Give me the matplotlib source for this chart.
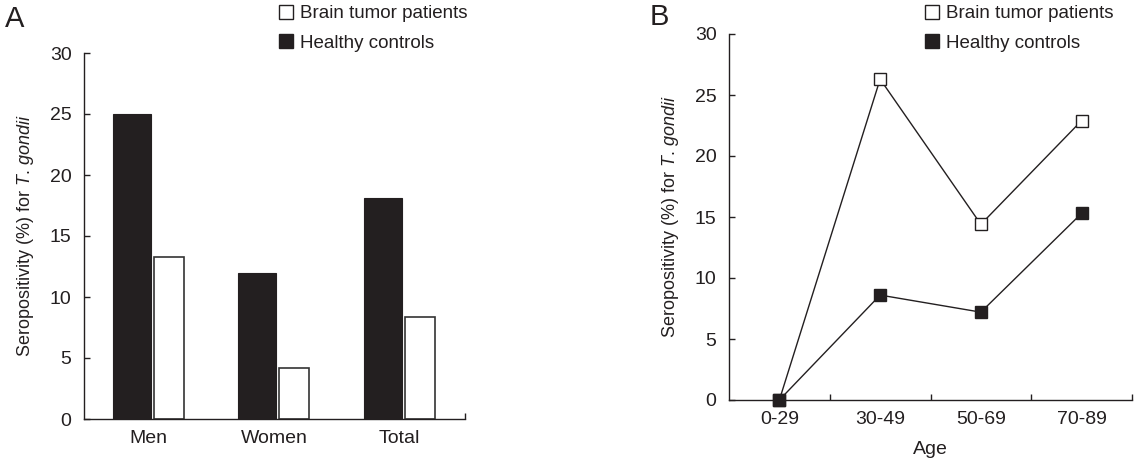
import matplotlib
matplotlib.use("Agg")
import matplotlib.pyplot as plt
from matplotlib.lines import Line2D
import numpy as np

plt.rcParams['font.family'] = ['Liberation Sans', 'DejaVu Sans']
plt.rcParams['mathtext.fontset'] = 'custom'
plt.rcParams['mathtext.rm'] = 'Liberation Sans'
plt.rcParams['mathtext.it'] = 'Liberation Sans:italic'

# Panel A data
sex_groups = ["Men", "Women", "Total"]
healthy_sex = [25.0, 12.0, 18.1]
tumor_sex = [13.3, 4.2, 8.4]

# Panel B data
age_groups = ["0-29", "30-49", "50-69", "70-89"]
tumor_age = [0.0, 26.3, 14.4, 22.9]
healthy_age = [0.0, 8.6, 7.2, 15.3]

yticks = [0, 5, 10, 15, 20, 25, 30]
ylabel = r'Seropositivity (%) for $\mathit{T.\,gondii}$'
legend_labels = ["Brain tumor patients", "Healthy controls"]
dark = '#231f20'
FS = 14

W, H = 1139, 466
fig = plt.figure(figsize=(W / 100, H / 100), dpi=100)

def px_axes(l, r, b, t):
    return fig.add_axes([l / W, 1 - b / H, (r - l) / W, (b - t) / H])

def style_axes(ax):
    ax.tick_params(axis='x', which='major', length=0, pad=8, labelsize=FS, colors=dark)
    ax.tick_params(axis='x', which='minor', direction='in', length=4, width=1, color=dark)
    ax.tick_params(axis='y', direction='in', length=4, width=1, pad=9, labelsize=FS, colors=dark)
    for s in ['top', 'right']:
        ax.spines[s].set_visible(False)
    for s in ['left', 'bottom']:
        ax.spines[s].set_color(dark)
        ax.spines[s].set_linewidth(1)
    ax.set_ylabel(ylabel, fontsize=13, color=dark, labelpad=10)

# ---------- Panel A ----------
axA = px_axes(84, 465, 419, 53)
x = np.arange(len(sex_groups))
bw_black, bw_white, gap = 0.30, 0.24, 0.024
left = x - 0.283
axA.bar(left + bw_black / 2, healthy_sex, width=bw_black, color=dark,
        edgecolor=dark, linewidth=0.8)
axA.bar(left + bw_black + gap + bw_white / 2, tumor_sex, width=bw_white,
        color='white', edgecolor='#333333', linewidth=1.2)
axA.set_xlim(-0.514, 2.522)
axA.set_ylim(0, 30)
axA.set_yticks(yticks)
axA.set_xticks(x)
axA.set_xticklabels(sex_groups)
axA.set_xticks([2.522], minor=True)
style_axes(axA)

# ---------- Panel B ----------
axB = px_axes(729, 1132, 400, 34)
xb = np.arange(len(age_groups))
axB.plot(xb, tumor_age, color=dark, lw=1, marker='s', ms=8,
         mfc='white', mec=dark, mew=1, zorder=3, clip_on=False)
axB.plot(xb, healthy_age, color=dark, lw=1, marker='s', ms=8,
         mfc=dark, mec=dark, mew=1, zorder=4, clip_on=False)
axB.set_xlim(-0.5, 3.5)
axB.set_ylim(0, 30)
axB.set_yticks(yticks)
axB.set_xticks(xb)
axB.set_xticklabels(age_groups)
axB.set_xticks([0.5, 1.5, 2.5, 3.5], minor=True)
style_axes(axB)
axB.set_xlabel("Age", fontsize=FS, color=dark, labelpad=9)

# ---------- Legends ----------
def make_handles():
    return [Line2D([], [], ls='none', marker='s', ms=9.5, mfc='white', mec=dark, mew=1),
            Line2D([], [], ls='none', marker='s', ms=9.5, mfc=dark, mec=dark, mew=1)]

for lx in (279, 925):
    fig.legend(make_handles(), legend_labels, loc='upper left',
               bbox_to_anchor=(lx / W, 1 - 5 / H), frameon=False, fontsize=13.5,
               borderpad=0, borderaxespad=0, handlelength=0.78, handletextpad=0.36,
               labelspacing=0.68, labelcolor=dark)

fig.text(5 / W, 1 - 19 / H, "A", fontsize=21, color=dark, va='center', ha='left')
fig.text(650 / W, 1 - 17 / H, "B", fontsize=21, color=dark, va='center', ha='left')

fig.savefig("out.png", dpi=100)
